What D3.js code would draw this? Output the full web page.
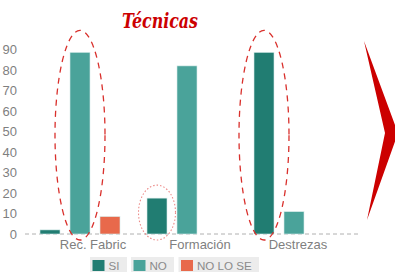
<!DOCTYPE html>
<html>
<head>
<meta charset="utf-8">
<script src="https://cdn.jsdelivr.net/npm/d3@7"></script>
<style>
  body { margin: 0; background: #fff; }
  svg { display: block; font-family: "Liberation Sans", Arial, sans-serif; }
</style>
</head>
<body>
<svg></svg>
<script>
let categories = ['Rec. Fabric', 'Formación', 'Destrezas'];
let series = ['SI', 'NO', 'NO LO SE'];
let siValues = [2, 17.5, 88.6];
let noValues = [88.6, 82, 10.9];
let nolseValues = [8.5, 0, 0];
let yTicks = [0, 10, 20, 30, 40, 50, 60, 70, 80, 90];

let colors = ['#217d72', '#4aa39a', '#e8694b'];
let labelShift = [13, 13, 4];

let width = 395;
let height = 272;

let svg = d3.select('svg')
  .attr('width', width)
  .attr('height', height);

let rows = categories.map((c, i) => [siValues[i], noValues[i], nolseValues[i]]);

let x0 = d3.scaleBand().domain(categories).range([26.5, 347.5]);
let x1 = d3.scaleBand().domain(series).range([0, 90]).paddingInner(1 / 3).paddingOuter(1 / 6);
let y = d3.scaleLinear().domain([0, 100]).range([234, 29]);

let groupX = (c) => x0(c) + x0.bandwidth() / 2 - 45;

// baseline
svg.append('line')
  .attr('x1', 25).attr('x2', 360)
  .attr('y1', y(0)).attr('y2', y(0))
  .attr('stroke', '#b0b0b0')
  .attr('stroke-width', 1)
  .attr('stroke-dasharray', '4,3');

// y axis labels only
let yAxis = svg.append('g')
  .attr('transform', 'translate(22,0)')
  .call(d3.axisLeft(y).tickValues(yTicks).tickSize(0).tickPadding(5));
yAxis.select('.domain').remove();
yAxis.selectAll('text')
  .attr('fill', '#7f7f7f')
  .style('font-size', '13px')
  .style('font-family', '"Liberation Sans", Arial, sans-serif');

// bars
let groups = svg.selectAll('.grp')
  .data(categories)
  .enter()
  .append('g')
  .attr('class', 'grp')
  .attr('transform', (c) => 'translate(' + groupX(c) + ',0)');

groups.selectAll('rect')
  .data((c, i) => rows[i].map((v, j) => ({ s: series[j], v: v, j: j })))
  .enter()
  .filter((d) => d.v > 0)
  .append('rect')
  .attr('x', (d) => x1(d.s))
  .attr('width', x1.bandwidth())
  .attr('y', (d) => y(d.v))
  .attr('height', (d) => y(0) - y(d.v))
  .attr('fill', (d) => colors[d.j])
  .attr('stroke', '#d8ece9')
  .attr('stroke-width', 0.6);

// x axis labels
let xAxis = svg.append('g')
  .attr('transform', 'translate(0,' + y(0) + ')')
  .call(d3.axisBottom(x0).tickSize(0).tickPadding(6));
xAxis.select('.domain').remove();
xAxis.selectAll('text')
  .attr('fill', '#7f7f7f')
  .attr('dx', (d, i) => labelShift[i])
  .style('font-size', '13px')
  .style('font-family', '"Liberation Sans", Arial, sans-serif');

// annotation ellipses
let barCx = (c, s) => groupX(c) + x1(s) + x1.bandwidth() / 2;
let ellipses = [
  { c: 'Rec. Fabric', s: 'NO', v: noValues[0], rx: 25, dash: '6,5', w: 1.3, col: '#d9302c' },
  { c: 'Formación', s: 'SI', v: siValues[1], rx: 18.5, dash: '1.5,2', w: 1.1, col: '#ec8a88' },
  { c: 'Destrezas', s: 'SI', v: siValues[2], rx: 25, dash: '6,5', w: 1.3, col: '#d9302c' }
];
ellipses.forEach((e) => {
  let top = y(e.v) - (e.v > 50 ? 22 : 13);
  let bottom = y(0) + 6;
  svg.append('ellipse')
    .attr('cx', barCx(e.c, e.s))
    .attr('cy', (top + bottom) / 2)
    .attr('rx', e.rx)
    .attr('ry', (bottom - top) / 2)
    .attr('fill', 'none')
    .attr('stroke', e.col)
    .attr('stroke-width', e.w)
    .attr('stroke-dasharray', e.dash);
});

// legend
let legendX = [90, 131, 178.5];
let legendW = [37, 43, 80.5];
let legend = svg.selectAll('.leg')
  .data(series)
  .enter()
  .append('g')
  .attr('class', 'leg')
  .attr('transform', (d, i) => 'translate(' + legendX[i] + ',257)');
legend.append('rect')
  .attr('width', (d, i) => legendW[i])
  .attr('height', 16)
  .attr('fill', '#ececec');
legend.append('rect')
  .attr('x', 2.5).attr('y', 3)
  .attr('width', 12).attr('height', 11)
  .attr('fill', (d, i) => colors[i]);
legend.append('text')
  .attr('x', 18.5).attr('y', 12.8)
  .attr('fill', '#8a8a8a')
  .style('font-size', '11.6px')
  .text((d) => d);

// title
svg.append('text')
  .attr('x', 122).attr('y', 28)
  .attr('textLength', 76)
  .attr('lengthAdjust', 'spacingAndGlyphs')
  .attr('fill', '#cc0000')
  .style('font-family', '"DejaVu Serif", "Liberation Serif", serif')
  .style('font-style', 'italic')
  .style('font-weight', 'bold')
  .style('font-size', '21px')
  .text('Técnicas');

// red chevron
svg.append('path')
  .attr('d', 'M364,41 L398,133 L367,220 L385,133 Z')
  .attr('fill', '#cc0000');
</script>
</body>
</html>
